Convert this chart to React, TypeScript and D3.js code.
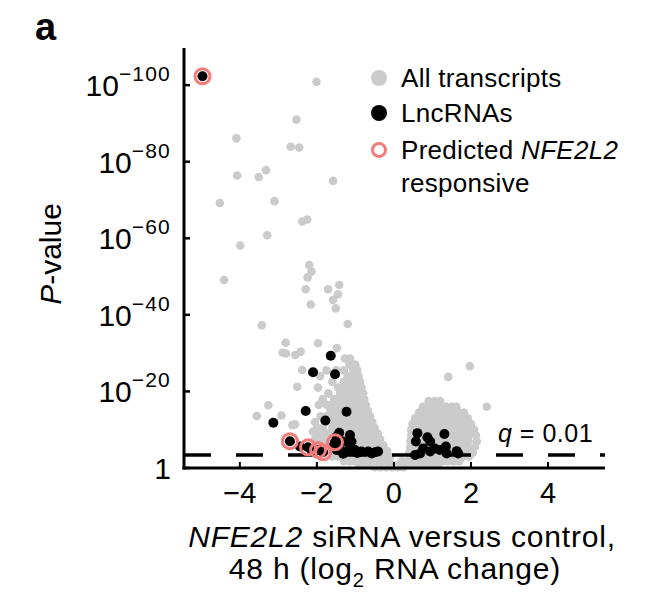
import React from "react";
import * as d3 from "d3";

// x = log2 fold change, y = -log10(P)
const sparseTranscripts: [number, number][] = [
  [-2.01, 100.9], [-2.53, 91.0], [-4.09, 86.1], [-2.68, 83.9], [-2.46, 83.7],
  [-3.32, 77.8], [-4.07, 76.4], [-3.51, 76.0], [-1.58, 75.0], [-4.52, 69.2],
  [-3.10, 69.7], [-2.38, 64.4], [-2.25, 64.9], [-3.29, 60.8], [-3.99, 58.1],
  [-4.41, 49.1], [-2.20, 53.0], [-2.14, 51.3], [-2.24, 49.8], [-2.29, 46.7],
  [-1.71, 46.7], [-1.42, 47.8], [-1.45, 45.4], [-1.58, 43.9], [-1.51, 41.7],
  [-2.16, 42.7], [-1.20, 37.6], [-3.43, 37.3], [-2.81, 32.7], [-2.89, 30.1],
  [-2.80, 29.9], [-2.56, 29.5], [-2.42, 30.4], [-1.97, 32.6], [-1.48, 31.3],
  [-1.27, 28.6], [-1.14, 28.6], [-2.38, 25.6], [-3.26, 16.4], [-3.56, 13.6],
  [-2.92, 13.7], [-2.64, 11.2], [-2.57, 11.4], [-2.51, 21.2], [-2.10, 9.5],
  [1.97, 26.6], [1.41, 23.8], [2.41, 16.0],
];

// dense clouds, read row by row: [-log10 P, log2 changes]
const denseTranscriptRows: [number, number[]][] = [
  [27, [-1.15, -1.0]],
  [25.5, [-1.75, -1.5, -1.3, -1.05, -0.95]],
  [24, [-1.92, -1.2, -1.05, -0.92]],
  [22.5, [-1.6, -1.3, -1.15, -1.0, -0.88]],
  [21, [-1.97, -1.45, -1.25, -1.1, -0.95, -0.84]],
  [19.5, [-1.7, -1.4, -1.2, -1.05, -0.92, -0.8]],
  [18, [-1.85, -1.55, -1.35, -1.2, -1.05, -0.9, -0.77]],
  [17.5, [0.9, 1.05, 1.2]],
  [16.5, [-1.95, -1.75, -1.6, -1.4, -1.25, -1.1, -0.95, -0.82, -0.73]],
  [16, [0.75, 0.9, 1.05, 1.2, 1.35, 1.5, 1.62]],
  [15, [-1.65, -1.5, -1.35, -1.1, -0.95, -0.8, -0.68]],
  [14.5, [0.65, 0.8, 0.95, 1.1, 1.25, 1.4, 1.55, 1.7, 1.82]],
  [13.5, [-1.9, -1.75, -1.6, -1.45, -1.3, -1.15, -1.0, -0.85, -0.72, -0.62]],
  [13, [0.55, 0.7, 0.85, 1.0, 1.15, 1.3, 1.45, 1.6, 1.75, 1.92]],
  [12, [-2.05, -1.7, -1.55, -1.4, -1.25, -1.1, -0.95, -0.8, -0.67, -0.56]],
  [11.5, [0.48, 0.63, 0.78, 0.93, 1.08, 1.23, 1.38, 1.53, 1.68, 1.83, 2.0]],
  [10.5, [-2.0, -1.85, -1.6, -1.45, -1.3, -1.15, -1.0, -0.85, -0.72, -0.6, -0.5]],
  [10, [0.45, 0.6, 0.75, 0.9, 1.05, 1.2, 1.35, 1.5, 1.65, 1.8, 1.95, 2.08]],
  [9, [-1.95, -1.75, -1.6, -1.25, -1.05, -0.9, -0.75, -0.62, -0.5, -0.42]],
  [8.5, [0.45, 0.6, 0.75, 0.9, 1.05, 1.2, 1.35, 1.5, 1.65, 1.8, 1.95, 2.13]],
  [7.5, [-2.05, -1.85, -1.7, -1.55, -1.4, -1.25, -1.1, -0.95, -0.8, -0.67, -0.55, -0.45, -0.36]],
  [7, [0.43, 0.58, 0.73, 0.88, 1.03, 1.18, 1.33, 1.48, 1.63, 1.78, 1.93, 2.15]],
  [6, [-1.95, -1.8, -1.65, -1.4, -1.2, -1.0, -0.85, -0.7, -0.57, -0.45, -0.35, -0.28]],
  [5.5, [0.42, 0.57, 0.72, 0.87, 1.02, 1.17, 1.32, 1.47, 1.62, 1.77, 1.92, 2.1]],
  [4.5, [-1.8, -1.65, -1.5, -1.35, -1.2, -1.05, -0.9, -0.75, -0.6, -0.48, -0.36, -0.26, -0.18]],
  [4, [0.4, 0.55, 0.7, 0.85, 1.0, 1.15, 1.3, 1.45, 1.6, 1.75, 1.9, 2.05]],
  [3, [-1.6, -1.45, -1.3, -1.15, -1.0, -0.85, -0.7, -0.55, -0.42, -0.3, -0.2, -0.1, 0.45, 0.6, 0.75, 0.9, 1.05, 1.2, 1.35, 1.5, 1.65, 1.8, 1.95]],
  [1.8, [-1.3, -1.15, -1.0, -0.85, -0.7, -0.55, -0.4, -0.25, -0.12, 0.2, 0.35, 0.5, 0.65, 0.8, 0.95, 1.1, 1.25, 1.4, 1.55, 1.7]],
  [0.8, [-0.9, -0.75, -0.6, -0.45, -0.3, -0.15, 0.0, 0.12, 0.25, 0.4, 0.55, 0.7, 0.85, 1.0, 1.15]],
  [0.2, [-0.5, -0.35, -0.2, -0.05, 0.1, 0.25]],
];

const lncRNAs: [number, number][] = [
  [-4.97, 102.3],
  [-1.64, 29.3], [-2.10, 25.0], [-1.53, 24.5], [-2.29, 14.9], [-1.23, 14.7],
  [-3.13, 11.8], [-1.78, 12.4], [-1.42, 9.2],
  [-2.70, 7.0], [-2.23, 5.4], [-1.97, 4.7], [-1.84, 4.1], [-1.53, 6.7],
  [-2.44, 5.6], [-2.14, 4.7],
  [-1.14, 8.6], [-1.49, 8.2], [-1.32, 6.9], [-1.10, 6.9], [-1.40, 4.7], [-1.23, 4.3],
  [-1.01, 4.7], [-0.84, 4.3], [-0.67, 4.3], [-0.49, 4.1], [-0.41, 4.3],
  [-1.14, 5.6], [-1.32, 3.7], [-1.49, 4.7], [-1.58, 5.6], [-0.95, 3.9], [-0.58, 3.8],
  [0.61, 9.1], [0.57, 6.9], [0.87, 8.0], [0.94, 6.9], [1.31, 8.9], [1.19, 4.7],
  [1.35, 5.6], [0.68, 3.8], [0.94, 4.3], [1.63, 4.4], [1.67, 3.8], [0.76, 5.1],
  [1.06, 5.1], [0.55, 3.4], [1.37, 3.8],
];

const predictedResponsive: [number, number][] = [
  [-4.97, 102.3], [-2.70, 7.0], [-2.23, 5.4], [-1.97, 4.7], [-1.84, 4.1], [-1.53, 6.7],
];

const xTicks = [-4, -2, 0, 2, 4];
const xTickLabels = ["\u22124", "\u22122", "0", "2", "4"];
const yTicks = [0, 20, 40, 60, 80, 100];
const yTickExponents = ["", "\u221220", "\u221240", "\u221260", "\u221280", "\u2212100"];
const qThreshold = 3.4;

const legendLabels = ["All transcripts", "LncRNAs", "Predicted", "responsive"];

const FONT = "'Liberation Sans', Arial, Helvetica, sans-serif";
const GRAY = "#cbcbcb";
const PINK = "#f27c7c";

export default function App() {
  const x = d3.scaleLinear().domain([-5.45, 5.48]).range([184, 605]);
  const y = d3.scaleLinear().domain([0, 109.7]).range([468, 48]);

  const allTranscripts: [number, number][] = [
    ...sparseTranscripts,
    ...denseTranscriptRows.flatMap(([py, xs]) => xs.map((px) => [px, py] as [number, number])),
  ];

  const [x0, x1] = x.range();
  const [yb, yt] = y.range();

  return (
    <svg
      width={648}
      height={614}
      style={{ position: "absolute", left: 0, top: 0, background: "#fff" }}
      fontFamily={FONT}
    >
      <rect width={648} height={614} fill="#fff" />
      <text x={35} y={40} fontSize={38} fontWeight="bold">a</text>

      {/* gray points */}
      <g>
        {allTranscripts.map(([dx, dy], i) => (
          <circle key={i} cx={x(dx)} cy={y(dy)} r={4.3} fill={GRAY} />
        ))}
      </g>

      {/* q threshold */}
      <line
        x1={x0}
        x2={x1}
        y1={y(qThreshold)}
        y2={y(qThreshold)}
        stroke="#000"
        strokeWidth={3.5}
        strokeDasharray="27 25"
      />

      {/* lncRNAs */}
      <g>
        {lncRNAs.map(([dx, dy], i) => (
          <circle key={i} cx={x(dx)} cy={y(dy)} r={5} fill="#000" />
        ))}
      </g>
      <g>
        {predictedResponsive.map(([dx, dy], i) => (
          <circle key={i} cx={x(dx)} cy={y(dy)} r={7.5} fill="none" stroke={PINK} strokeWidth={3} />
        ))}
      </g>

      {/* axes */}
      <line x1={x0} x2={x0} y1={yt} y2={yb + 1.5} stroke="#000" strokeWidth={3} />
      <line x1={x0 - 1.5} x2={x1} y1={yb} y2={yb} stroke="#000" strokeWidth={3} />
      {yTicks.map((t, i) => (
        <g key={t}>
          <line x1={x0} x2={x0 + 6} y1={y(t)} y2={y(t)} stroke="#000" strokeWidth={2.5} />
          <text x={171} y={y(t) + 11} fontSize={30} textAnchor="end">
            {t === 0 ? (
              "1"
            ) : (
              <>
                <tspan>10</tspan>
                <tspan dy={-15} fontSize={21} letterSpacing={1.2}>{yTickExponents[i]}</tspan>
              </>
            )}
          </text>
        </g>
      ))}
      {xTicks.map((t, i) => (
        <g key={t}>
          <line x1={x(t)} x2={x(t)} y1={yb} y2={yb - 6} stroke="#000" strokeWidth={2} />
          <text x={x(t)} y={503} fontSize={29} textAnchor="middle">{xTickLabels[i]}</text>
        </g>
      ))}

      {/* q label */}
      <text x={498} y={442} fontSize={25} letterSpacing={0.5}>
        <tspan fontStyle="italic">q</tspan> = 0.01
      </text>

      {/* axis titles */}
      <text transform="translate(61,254) rotate(-90)" fontSize={30} textAnchor="middle">
        <tspan fontStyle="italic">P</tspan>-value
      </text>
      <text x={402} y={547} fontSize={30} textAnchor="middle" letterSpacing={0.8}>
        <tspan fontStyle="italic">NFE2L2</tspan> siRNA versus control,
      </text>
      <text x={395} y={579} fontSize={30} textAnchor="middle" letterSpacing={0.8}>
        48 h (log<tspan dy={8} fontSize={20}>2</tspan><tspan dy={-8}> RNA change)</tspan>
      </text>

      {/* legend */}
      <circle cx={379} cy={78} r={8} fill={GRAY} />
      <circle cx={379} cy={113} r={8} fill="#000" />
      <circle cx={379} cy={150} r={6.5} fill="none" stroke={PINK} strokeWidth={3} />
      <text x={401} y={87} fontSize={26} letterSpacing={0.3}>{legendLabels[0]}</text>
      <text x={401} y={122} fontSize={26} letterSpacing={0.3}>{legendLabels[1]}</text>
      <text x={401} y={159} fontSize={26} letterSpacing={0.3}>
        {legendLabels[2]} <tspan fontStyle="italic">NFE2L2</tspan>
      </text>
      <text x={401} y={192} fontSize={26} letterSpacing={0.3}>{legendLabels[3]}</text>
    </svg>
  );
}
